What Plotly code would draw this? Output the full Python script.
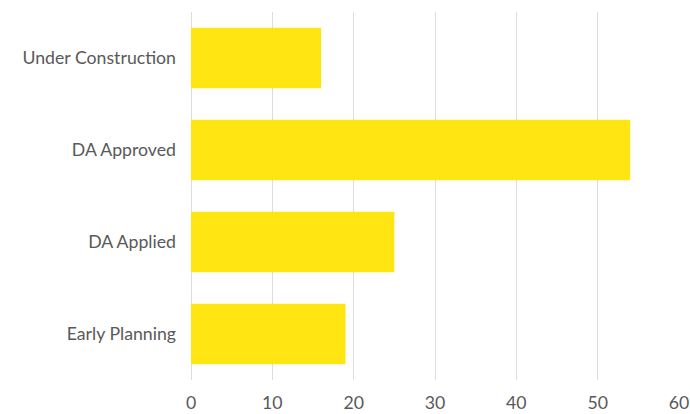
import plotly.graph_objects as go

# Project pipeline stages (top to bottom) and project counts
stages = ["Under Construction", "DA Approved", "DA Applied", "Early Planning"]
counts = [16, 54, 25, 19]

x_ticks = [0, 10, 20, 30, 40, 50, 60]

fig = go.Figure(
    go.Bar(
        y=stages,
        x=counts,
        orientation="h",
        marker=dict(color="#FFE512", line=dict(width=0)),
        hoverinfo="x+y",
    )
)

fig.update_layout(
    width=690,
    height=414,
    margin=dict(l=191, r=11, t=12, b=34),
    plot_bgcolor="white",
    paper_bgcolor="white",
    bargap=0.34,
    showlegend=False,
    font=dict(family="Lato", size=17.7, color="#595959"),
)

fig.update_xaxes(
    range=[0, 60],
    tickvals=x_ticks,
    showgrid=True,
    gridcolor="#DDDDDD",
    gridwidth=1,
    zeroline=True,
    zerolinecolor="#DDDDDD",
    zerolinewidth=1,
    showline=False,
    ticks="",
    ticklabelstandoff=10,
    automargin=False,
)

fig.update_yaxes(
    categoryorder="array",
    categoryarray=stages[::-1],
    showgrid=False,
    showline=False,
    zeroline=False,
    ticks="",
    ticklabelstandoff=14,
    automargin=False,
)

fig.write_html("out.html")
